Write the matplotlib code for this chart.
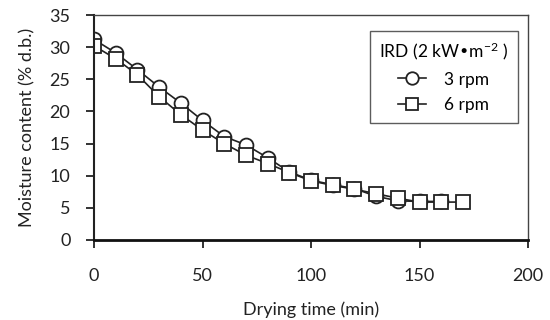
import matplotlib
matplotlib.use("Agg")
import matplotlib.pyplot as plt

time_3 = [0, 10, 20, 30, 40, 50, 60, 70, 80, 90, 100, 110, 120, 130, 140, 150, 160]
mc_3 = [31.2, 29.1, 26.5, 23.8, 21.3, 18.6, 16.1, 14.8, 12.8, 10.6, 9.3, 8.6, 8.0, 6.8, 6.1, 6.0, 6.0]
time_6 = [0, 10, 20, 30, 40, 50, 60, 70, 80, 90, 100, 110, 120, 130, 140, 150, 160, 170]
mc_6 = [30.2, 28.2, 25.7, 22.3, 19.5, 17.1, 15.0, 13.2, 11.9, 10.5, 9.2, 8.5, 7.9, 7.2, 6.5, 5.9, 5.9, 5.9]
xticks = [0, 50, 100, 150, 200]
yticks = [0, 5, 10, 15, 20, 25, 30, 35]

plt.rcParams['font.family'] = ['Lato', 'DejaVu Sans']
plt.rcParams['mathtext.default'] = 'regular'
fig = plt.figure(figsize=(5.5, 3.2), dpi=100)
ax = fig.add_axes([0.171, 0.25, 0.789, 0.703])

ax.plot(time_3, mc_3, '-o', color='#222222', mfc='white', mec='#222222',
        ms=10, mew=1.3, lw=1.2, label='3 rpm')
ax.plot(time_6, mc_6, '-s', color='#222222', mfc='white', mec='#222222',
        ms=10, mew=1.3, lw=1.2, label='6 rpm')

ax.set_xlim(0, 200)
ax.set_ylim(0, 35)
ax.set_xticks(xticks)
ax.set_yticks(yticks)
ax.tick_params(axis='x', direction='out', length=6, width=1.3, pad=14, labelsize=13, colors='#222222')
ax.tick_params(axis='y', direction='out', length=6, width=1.3, pad=11, labelsize=13, colors='#222222')
for s in ['top', 'right']:
    ax.spines[s].set_linewidth(1.0)
    ax.spines[s].set_color('#444444')
ax.spines['bottom'].set_linewidth(2.0)
ax.spines['left'].set_linewidth(1.5)
ax.spines['bottom'].set_color('#111111')
ax.spines['left'].set_color('#222222')

ax.set_xlabel('Drying time (min)', fontsize=13, labelpad=13, color='#222222')
ax.set_ylabel('Moisture content (% d.b.)', fontsize=13, labelpad=10, color='#222222')

leg = ax.legend(title='IRD (2 kW•m$^{-2}$ )', loc='upper right', bbox_to_anchor=(0.996, 0.968),
                fontsize=12.5, title_fontsize=12.5, frameon=True, fancybox=False,
                edgecolor='#333333', handlelength=1.6, handletextpad=1.0,
                borderpad=0.55, labelspacing=0.55, markerscale=0.9)
leg.get_frame().set_linewidth(1.0)

fig.savefig('out.png', dpi=100)
